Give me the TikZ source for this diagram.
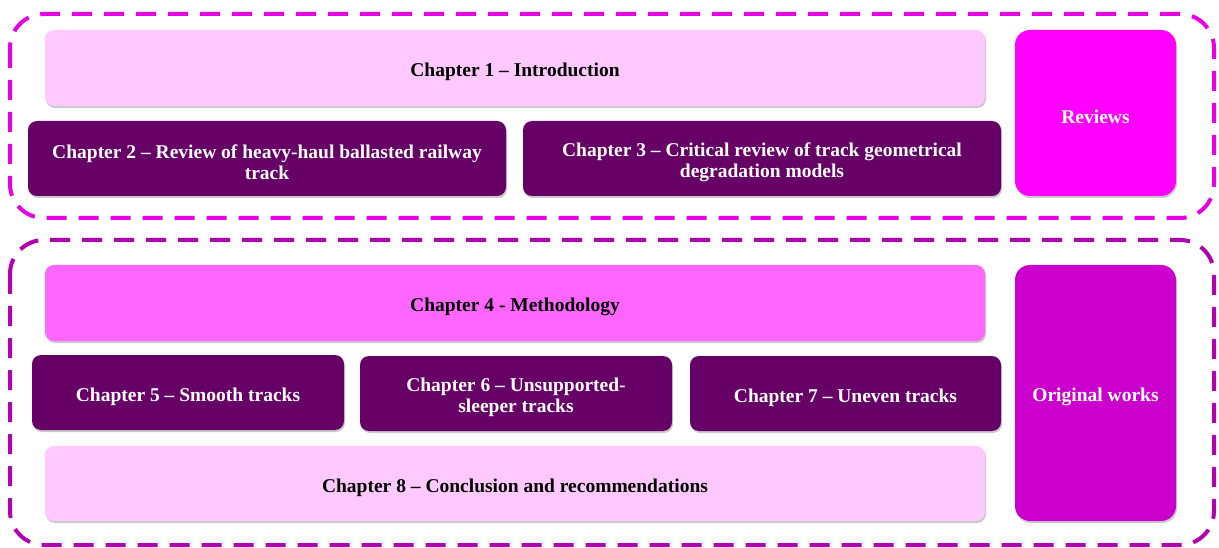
\documentclass[tikz,border=0pt]{standalone}
\usepackage{fontspec}
\setmainfont{Liberation Serif}
\usetikzlibrary{shadows}
\definecolor{lightpink}{HTML}{FFC8FF}
\definecolor{darkpurple}{HTML}{660066}
\definecolor{brightmag}{HTML}{FF00FF}
\definecolor{methpink}{HTML}{FF66FF}
\definecolor{origmag}{HTML}{CC00CC}
\definecolor{topframe}{HTML}{E600E6}
\definecolor{botframe}{HTML}{B000B0}
\newcommand{\lowerstrut}{\rule{0pt}{21.5pt}}
\tikzset{
  box/.style={rounded corners=9pt, inner sep=0pt, align=center,
    font=\fontsize{19.5}{21}\selectfont\bfseries,
    drop shadow={shadow xshift=1pt, shadow yshift=-2pt, fill=black!35, opacity=0.6}},
  bigbox/.style={box, rounded corners=15pt},
  frame/.style={line width=4pt, dash pattern=on 20pt off 12pt, rounded corners=34pt},
}
\begin{document}
\begin{tikzpicture}[x=1pt,y=-1pt]
\useasboundingbox (0,0) rectangle (1219,548);
% frames
\draw[frame, topframe] (10,14) rectangle (1214,218);
\draw[frame, botframe] (10,240) rectangle (1214,545);
% top group
\node[box, fill=lightpink, text=black, minimum width=940pt, minimum height=76pt] (c1) at (515,68) {\lowerstrut Chapter 1 – Introduction};
\node[box, fill=darkpurple, text=white, minimum width=478pt, minimum height=75pt] (c2) at (267,158.5) {\lowerstrut Chapter 2 – Review of heavy-haul ballasted railway\\track};
\node[box, fill=darkpurple, text=white, minimum width=478pt, minimum height=75pt] (c3) at (762,158.5) {\lowerstrut Chapter 3 – Critical review of track geometrical\\degradation models};
\node[bigbox, fill=brightmag, text=white, minimum width=161pt, minimum height=166pt] (rev) at (1095.5,113) {\lowerstrut Reviews};
% bottom group
\node[box, fill=methpink, text=black, minimum width=940pt, minimum height=76pt] (c4) at (515,303) {\lowerstrut Chapter 4 - Methodology};
\node[box, fill=darkpurple, text=white, minimum width=312pt, minimum height=75pt] (c5) at (188,392.5) {\lowerstrut Chapter 5 – Smooth tracks};
\node[box, fill=darkpurple, text=white, minimum width=312pt, minimum height=75pt] (c6) at (516,393.5) {\lowerstrut Chapter 6 – Unsupported-\\sleeper tracks};
\node[box, fill=darkpurple, text=white, minimum width=311pt, minimum height=75pt] (c7) at (845.5,393.5) {\lowerstrut Chapter 7 – Uneven tracks};
\node[box, fill=lightpink, text=black, minimum width=940pt, minimum height=75pt] (c8) at (515,483.5) {\lowerstrut Chapter 8 – Conclusion and recommendations};
\node[bigbox, fill=origmag, text=white, minimum width=161pt, minimum height=256pt] (orig) at (1095.5,393) {\lowerstrut Original works};
\end{tikzpicture}
\end{document}
